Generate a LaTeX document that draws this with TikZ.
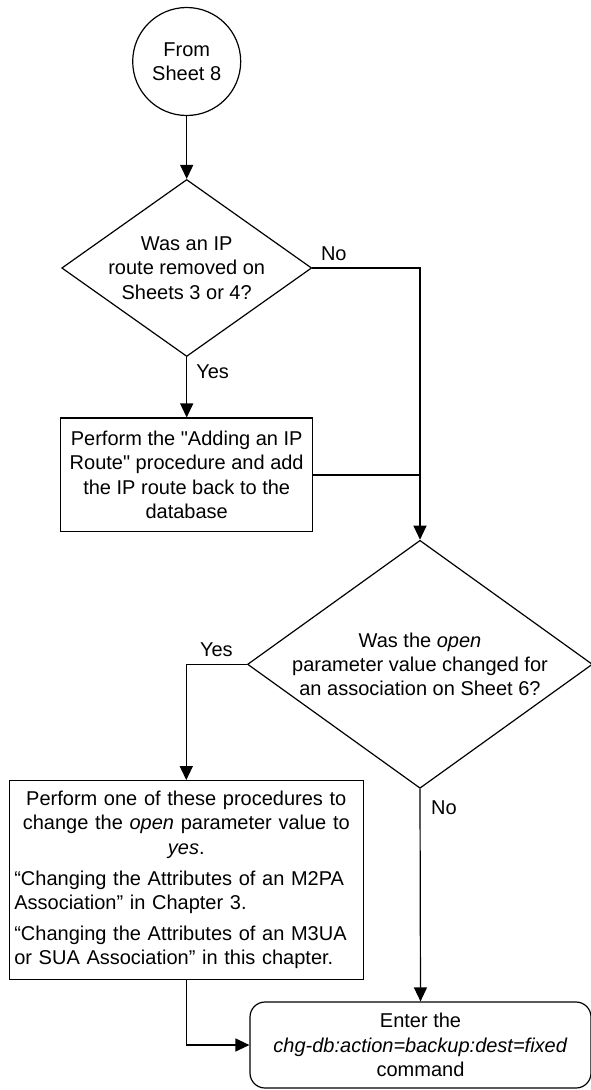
\documentclass[tikz,border=0pt]{standalone}
\usepackage{fontspec}
\setmainfont{Liberation Sans}[Ligatures=TeXOff]
\usetikzlibrary{shapes.geometric,arrows.meta}
\begin{document}
\begin{tikzpicture}[x=1pt,y=-1pt,
  every node/.style={font=\fontsize{20}{24.3}\selectfont},
  base/.style={draw, line width=1.2pt},
  arr/.style={line width=1.2pt, -{Triangle[length=14pt,width=13pt]}},
  ln/.style={line width=1.2pt},
  dia/.style={base, diamond, inner sep=0pt},
  txt/.style={align=center, inner sep=0pt},
  lbl/.style={inner sep=0pt},
]
\useasboundingbox (0,0) rectangle (590,1090);
\node[base, circle, minimum size=108pt, inner sep=0pt, align=center] (start) at (186.7,61.5) {From\\Sheet 8};
\node[dia, minimum width=250pt, minimum height=177pt] (d1) at (186.7,268) {};
\node[txt] (d1t) at (d1.center) {Was an IP\\route removed on\\Sheets 3 or 4?};
\node[base, rectangle, minimum width=252pt, minimum height=113.7pt, inner sep=0pt, align=center] (b1) at (186.7,474.9) {Perform the "Adding an IP\\Route" procedure and add\\the IP route back to the\\database};
\node[dia, minimum width=345pt, minimum height=248pt] (d2) at (420,664.3) {};
\node[txt] (d2t) at (d2.center) {Was the \textit{open}\\parameter value changed for\\an association on Sheet 6?};
\node[base, rectangle, text width=344pt, inner sep=5pt, minimum height=198.6pt] (b2) at (186.3,880) {\setlength\parindent{0pt}\setlength\parskip{0pt}\centering Perform one of these procedures to\\change the \textit{open} parameter value to\\\textit{yes}.\par\vspace{6.7pt}\raggedright “Changing the Attributes of an M2PA\\Association” in Chapter 3.\par\vspace{6.7pt}“Changing the Attributes of an M3UA\\or SUA Association” in this chapter.\par};
\node[base, rectangle, rounded corners=15pt, minimum width=341pt, minimum height=86pt, align=center, inner sep=0pt] (e) at (420.5,1045) {Enter the\\\textit{chg-db:action=backup:dest=fixed}\\command};

\draw[arr] (start) -- (d1.north);
\draw[arr] (d1.east) -| (d2.north);
\draw[arr] (d1.south) -- (b1.north);
\draw[ln] (b1.east) -- (b1.east -| d2.north);
\draw[arr] (d2.west) -| (b2.north);
\draw[arr] (d2.south) -- (e.north);
\draw[arr] (b2.south) |- (e.west);

\node[lbl] (no1) at (333.8,254) {No};
\node[lbl] (yes1) at (212.6,372) {Yes};
\node[lbl] (yes2) at (216.4,650) {Yes};
\node[lbl] (no2) at (444,808) {No};
\end{tikzpicture}
\end{document}
